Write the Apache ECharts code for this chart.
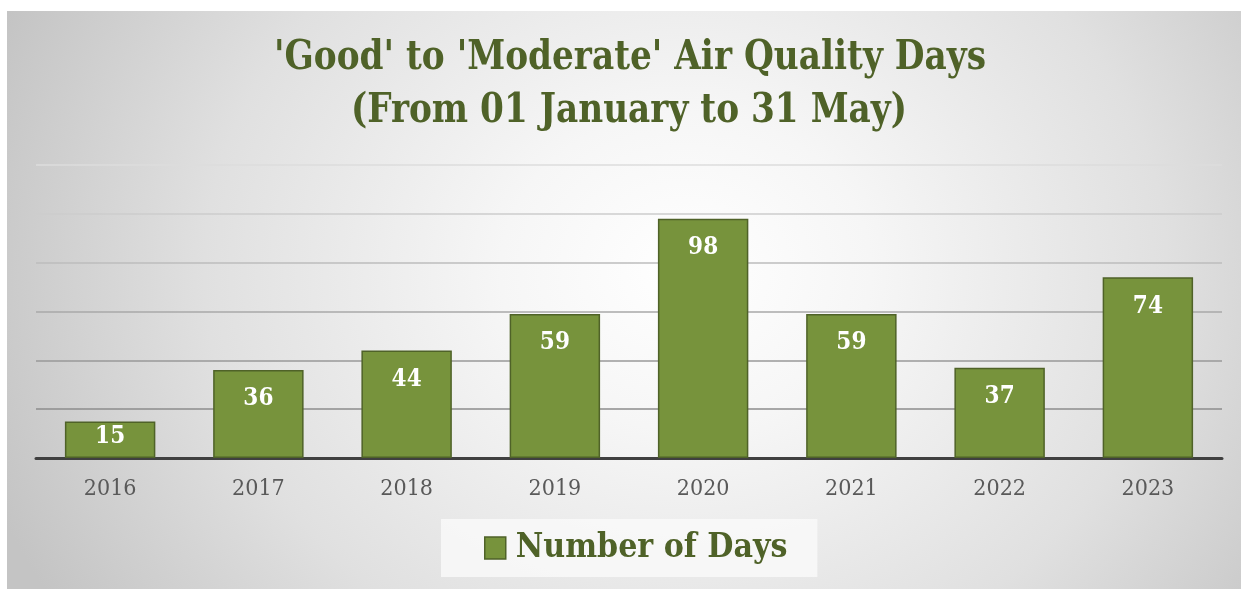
<!DOCTYPE html>
<html>
<head>
<meta charset="utf-8">
<script src="https://cdn.jsdelivr.net/npm/echarts@6/dist/echarts.min.js"></script>
<style>
  html, body { margin: 0; padding: 0; background: #ffffff; }
  #wrap { position: relative; width: 1248px; height: 590px; overflow: hidden; background: #ffffff; }
  #bg { position: absolute; left: 7px; top: 11px; width: 1234px; height: 578px;
        background: radial-gradient(ellipse 60% 110% at 55% 45%, #ffffff 0%, #f6f6f6 25%, #e0e0e0 65%, #c4c4c4 100%); }
  #chart { position: absolute; left: 0; top: 0; width: 1248px; height: 590px; }
</style>
</head>
<body>
<div id="wrap">
  <div id="bg"></div>
  <div id="chart"></div>
</div>
<script>
const categories = ['2016', '2017', '2018', '2019', '2020', '2021', '2022', '2023'];
const numberOfDays = [15, 36, 44, 59, 98, 59, 37, 74];
const seriesName = 'Number of Days';
const titleLines = ["'Good' to 'Moderate' Air Quality Days", "(From 01 January to 31 May)"];

const serif = "'DejaVu Serif Condensed', 'Liberation Serif', serif";
const titleFont = "bold 41px 'DejaVu Serif Condensed', 'Liberation Serif', serif";
const chart = echarts.init(document.getElementById('chart'), null, { renderer: 'canvas' });
chart.setOption({
  backgroundColor: 'transparent',
  animation: false,
  graphic: [
    {
      type: 'text', x: 630, y: 58, scaleX: 0.93, silent: true,
      style: { text: titleLines[0], font: titleFont, fill: '#4F6228', align: 'center', verticalAlign: 'middle' }
    },
    {
      type: 'text', x: 629, y: 111, scaleX: 0.93, silent: true,
      style: { text: titleLines[1], font: titleFont, fill: '#4F6228', align: 'center', verticalAlign: 'middle' }
    }
  ],
  legend: {
    data: [seriesName],
    left: 441,
    top: 519,
    padding: [12, 30, 12, 43],
    backgroundColor: 'rgba(250,250,250,0.8)',
    itemWidth: 21,
    itemHeight: 22,
    icon: 'rect',
    itemStyle: { color: '#77933C', borderColor: '#4F6228', borderWidth: 1.5 },
    textStyle: { fontFamily: serif, fontWeight: 'bold', fontSize: 33.5, color: '#4F6228', padding: [0, 0, 0, 5] }
  },
  grid: { left: 36, right: 26, top: 165, bottom: 132, containLabel: false },
  xAxis: {
    type: 'category',
    data: categories,
    axisLine: { lineStyle: { color: '#404040', width: 3 } },
    axisTick: { show: false },
    axisLabel: { fontFamily: serif, fontSize: 23, color: '#595959', margin: 20 }
  },
  yAxis: {
    type: 'value',
    min: 0,
    max: 120,
    interval: 20,
    axisLabel: { show: false },
    axisLine: { show: false },
    axisTick: { show: false },
    splitLine: {
      lineStyle: {
        color: ['#8c8c8c', '#8c8c8c', '#999999', '#a8a8a8', '#bcbcbc', '#cdcdcd', '#dcdcdc'],
        width: 1.5
      }
    }
  },
  series: [{
    name: seriesName,
    type: 'bar',
    data: numberOfDays.map(v => ({ value: v, label: { distance: v < 20 ? 3 : 17 } })),
    barWidth: '61%',
    itemStyle: { color: '#77933C', borderColor: '#4F6228', borderWidth: 1.5 },
    label: {
      show: true,
      position: 'insideTop',
      distance: 17,
      fontFamily: serif,
      fontWeight: 'bold',
      fontSize: 24,
      color: '#ffffff'
    }
  }]
});
</script>
</body>
</html>
